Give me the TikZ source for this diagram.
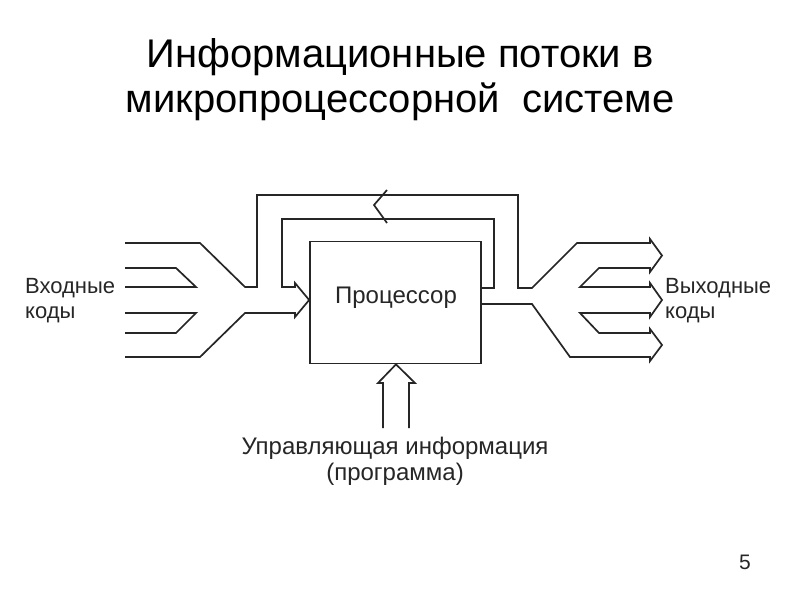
\documentclass[tikz,border=0pt]{standalone}
\usepackage{fontspec}
\setmainfont{Liberation Sans}
\begin{document}
\begin{tikzpicture}[x=1pt,y=-1pt,
  flow/.style={line width=1.7pt, line join=miter, black!85},
  lbl/.style={font=\fontsize{24}{28}\selectfont, inner sep=0pt, text=black!85},
  side/.style={lbl, font=\fontsize{22}{26}\selectfont, anchor=base west},
  ttl/.style={font=\fontsize{40}{45}\selectfont, inner sep=0pt, anchor=base, text=black}]
\useasboundingbox[fill=white] (0,0) rectangle (800,600);
% title
\node[ttl] (t1) at (400,67) {Информационные потоки в};
\node[ttl] (t2) at (400,112) {микропроцессорной\ \ системе};
% processor
\node[draw, flow, minimum width=171pt, minimum height=122pt, inner sep=0pt] (cpu) at (395.5,302.5) {};
\node[lbl, anchor=base] (cput) at (396,303) {Процессор};
% input funnel + outer loop + output arrows
\draw[flow] (125,243) -- (200,243) -- (245,287) -- (257,287) -- (257,195) -- (518,195)
  -- (518,288) -- (532,288) -- (577,243) -- (650,243) -- (650,239) -- (662,255.5) -- (650,272) -- (650,268)
  -- (599,268) -- (580,287) -- (650,287) -- (650,283) -- (662,300) -- (650,317) -- (650,313)
  -- (580,313) -- (599,333) -- (650,333) -- (650,329) -- (662,345) -- (650,361) -- (650,357)
  -- (570,357) -- (532,304) -- (cpu.east |- 0,304);
% inner loop + input arrow
\draw[flow] (cpu.east |- 0,288) -- (494,288) -- (494,219) -- (282,219) -- (282,287) -- (295,287)
  -- (295,283) -- (cpu.west |- 0,300) -- (295,317) -- (295,313) -- (245,313) -- (200,357) -- (125,357);
% inner input chevrons
\draw[flow] (125,268) -- (176,268) -- (196,287) -- (125,287);
\draw[flow] (125,313) -- (196,313) -- (176,333) -- (125,333);
% top feedback arrowhead
\draw[flow] (387,190) -- (374,205) -- (387,223);
% control arrow
\draw[flow] (383,428) -- (383,383) -- (378,383) -- (cpu.south -| 396,0) -- (415,383) -- (409,383) -- (409,428);
% labels
\node[side] (in1) at (25,293) {Входные};
\node[side] (in2) at (25,318) {коды};
\node[side] (out1) at (665,293) {Выходные};
\node[side] (out2) at (665,318) {коды};
\node[lbl, anchor=base] (c1) at (395,454) {Управляющая информация};
\node[lbl, anchor=base] (c2) at (395,480) {(программа)};
\node[lbl, anchor=base, font=\fontsize{21}{24}\selectfont] (pg) at (745,569) {5};
\end{tikzpicture}
\end{document}
